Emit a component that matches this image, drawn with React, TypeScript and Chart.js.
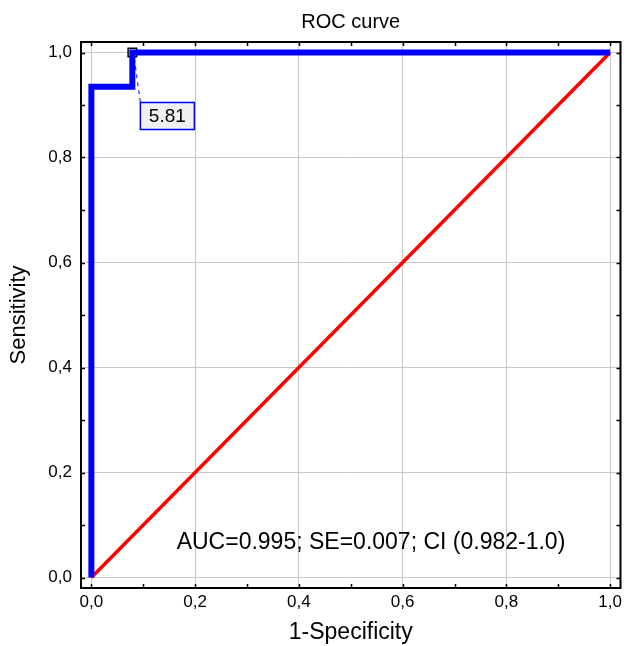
import React, { useEffect, useRef } from 'react';
import { Chart, registerables } from 'chart.js';

Chart.register(...registerables);

// ---- data ----
const rocFpr = [0, 0, 0.079, 0.079, 1];
const rocTpr = [0, 0.935, 0.935, 1, 1];
const refFpr = [0, 1];
const refTpr = [0, 1];
const cutoffFpr = [0.079];
const cutoffTpr = [1.0];
const cutoffLabel = '5.81';
const majorTicks = [0, 0.2, 0.4, 0.6, 0.8, 1.0];
const majorTickLabels = ['0,0', '0,2', '0,4', '0,6', '0,8', '1,0'];
const minorTicks = [0, 0.1, 0.2, 0.3, 0.4, 0.5, 0.6, 0.7, 0.8, 0.9, 1.0];
const titleText = 'ROC curve';
const xTitle = '1-Specificity';
const yTitle = 'Sensitivity';
const aucText = 'AUC=0.995; SE=0.007; CI (0.982-1.0)';
const aucPos = [0.539, 0.067];

const FONT = "'Liberation Sans', Arial, Helvetica, sans-serif";

const framePlugin = {
  id: 'framePlugin',
  afterDatasetsDraw(chart: any) {
    const { ctx, chartArea, scales } = chart;
    const { left, right, top, bottom } = chartArea;
    const xs = scales.x;
    const ys = scales.y;
    ctx.save();
    // frame
    ctx.strokeStyle = '#000';
    ctx.lineWidth = 2;
    ctx.strokeRect(left, top, right - left, bottom - top);
    // minor ticks inward
    ctx.lineWidth = 1.5;
    ctx.beginPath();
    minorTicks.forEach((v) => {
      const px = Math.round(xs.getPixelForValue(v)) + 0.5;
      ctx.moveTo(px, bottom);
      ctx.lineTo(px, bottom - 4);
      ctx.moveTo(px, top);
      ctx.lineTo(px, top + 4);
      const py = Math.round(ys.getPixelForValue(v)) + 0.5;
      ctx.moveTo(left, py);
      ctx.lineTo(left + 4, py);
      ctx.moveTo(right, py);
      ctx.lineTo(right - 4, py);
    });
    ctx.stroke();

    // cutoff label with dashed leader
    const cx = xs.getPixelForValue(cutoffFpr[0]);
    const cy = ys.getPixelForValue(cutoffTpr[0]);
    const bx = cx + 8;
    const by = cy + 50;
    const bw = 54;
    const bh = 27;
    ctx.strokeStyle = '#0000ff';
    ctx.lineWidth = 1;
    ctx.setLineDash([4, 4]);
    ctx.beginPath();
    ctx.moveTo(cx + 2, cy + 6);
    ctx.lineTo(bx, by);
    ctx.stroke();
    ctx.setLineDash([]);
    ctx.fillStyle = '#f0f0f0';
    ctx.fillRect(bx, by, bw, bh);
    ctx.lineWidth = 1.5;
    ctx.strokeRect(bx, by, bw, bh);
    ctx.fillStyle = '#000';
    ctx.font = `19px ${FONT}`;
    ctx.textAlign = 'center';
    ctx.textBaseline = 'middle';
    ctx.fillText(cutoffLabel, bx + bw / 2, by + bh / 2 + 1);

    // AUC text
    ctx.font = `23px ${FONT}`;
    ctx.fillText(aucText, xs.getPixelForValue(aucPos[0]), ys.getPixelForValue(aucPos[1]));
    ctx.restore();
  },
};

export default function App() {
  const ref = useRef<HTMLCanvasElement | null>(null);
  useEffect(() => {
    if (!ref.current) return;
    const chart = new Chart(ref.current, {
      type: 'scatter',
      data: {
        datasets: [
          {
            data: rocFpr.map((x, i) => ({ x, y: rocTpr[i] })),
            showLine: true,
            borderColor: '#0000ff',
            backgroundColor: '#0000ff',
            borderWidth: 6,
            borderJoinStyle: 'miter',
            pointRadius: 0,
          },
          {
            data: refFpr.map((x, i) => ({ x, y: refTpr[i] })),
            showLine: true,
            borderColor: '#ff0000',
            backgroundColor: '#ff0000',
            borderWidth: 3.5,
            pointRadius: 0,
          },
          {
            data: cutoffFpr.map((x, i) => ({ x, y: cutoffTpr[i] })),
            showLine: false,
            pointStyle: 'rect',
            pointRadius: 6,
            borderColor: '#000',
            backgroundColor: '#f4f4f4',
            borderWidth: 1.5,
          },
        ] as any,
      },
      options: {
        animation: false,
        responsive: false,
        layout: { padding: { left: 0, right: 4, top: 0, bottom: 0 } },
        plugins: {
          legend: { display: false },
          tooltip: { enabled: false },
          title: {
            display: true,
            fullSize: false,
            text: titleText,
            color: '#000',
            font: { family: FONT, size: 20, weight: 'normal' },
            padding: { top: 10, bottom: 8 },
          },
        },
        scales: {
          x: {
            type: 'linear',
            min: -0.02,
            max: 1.02,
            afterBuildTicks: (s: any) => {
              s.ticks = majorTicks.map((v) => ({ value: v }));
            },
            afterFit: (s: any) => {
              s.height = 58;
            },
            ticks: {
              color: '#000',
              font: { family: FONT, size: 17 },
              padding: 4,
              maxRotation: 0,
              callback: (_v: any, i: number) => majorTickLabels[i],
            },
            grid: { color: '#c8c8c8', lineWidth: 1, drawTicks: false },
            border: { display: false },
            title: {
              display: true,
              text: xTitle,
              color: '#000',
              font: { family: FONT, size: 23 },
              padding: { top: 0, bottom: 0 },
            },
          },
          y: {
            type: 'linear',
            min: -0.02,
            max: 1.02,
            afterBuildTicks: (s: any) => {
              s.ticks = majorTicks.map((v) => ({ value: v }));
            },
            afterFit: (s: any) => {
              s.width = 81;
            },
            ticks: {
              color: '#000',
              font: { family: FONT, size: 17 },
              padding: 9,
              callback: (_v: any, i: number) => majorTickLabels[i],
            },
            grid: { color: '#c8c8c8', lineWidth: 1, drawTicks: false },
            border: { display: false },
            title: {
              display: true,
              text: yTitle,
              color: '#000',
              font: { family: FONT, size: 22 },
              padding: { top: 6, bottom: 0 },
            },
          },
        },
      } as any,
      plugins: [framePlugin],
    });
    return () => chart.destroy();
  }, []);
  return (
    <canvas
      ref={ref}
      width={628}
      height={646}
      style={{ position: 'absolute', left: 0, top: 0, display: 'block' }}
    />
  );
}
